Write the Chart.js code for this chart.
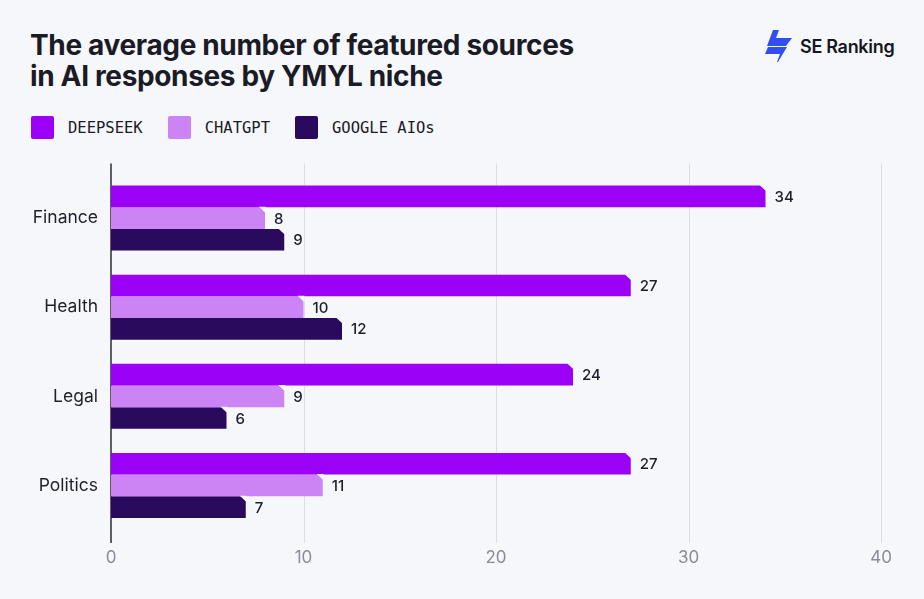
<!DOCTYPE html>
<html>
<head>
<meta charset="utf-8">
<script src="https://cdn.jsdelivr.net/npm/chart.js@4"></script>
<style>
  html, body { margin:0; padding:0; background:#f6f7fb; }
  body { width:924px; height:599px; position:relative; overflow:hidden; font-family:Inter, "Noto Sans", sans-serif; }
  #title { position:absolute; left:30px; top:30px; font-size:28px; font-weight:700; line-height:31px; color:#1b1b26; letter-spacing:-0.35px; }
  #logo { position:absolute; left:764px; top:30px; display:flex; align-items:center; gap:6px; }
  #logo span { font-size:18px; font-weight:600; color:#16161f; letter-spacing:-0.3px; }
  #legend { position:absolute; left:31px; top:116px; display:flex; align-items:center; }
  .item { display:flex; align-items:center; margin-right:25px; font-family:"DejaVu Sans Mono", monospace; font-size:15.5px; color:#1b1b26; }
  .sw { width:23px; height:23px; border-radius:2px; margin-right:14px; }
  #wrap { position:absolute; left:0; top:150px; width:924px; height:440px; }
</style>
</head>
<body>
<div id="title">The average number of featured sources<br>in AI responses by YMYL niche</div>
<div id="logo">
  <svg width="30" height="32" viewBox="0 0 30 32">
    <polygon points="9,0 15,0 12,8 28,8 22,16 3,16" fill="#2f4ff0"/>
    <polygon points="4,17 23,17 14,32 13,32 16,24 1,24" fill="#2f4ff0"/>
  </svg>
  <span>SE Ranking</span>
</div>
<div id="legend"></div>
<div id="wrap"><canvas id="chart"></canvas></div>
<script>
const categories = ['Finance', 'Health', 'Legal', 'Politics'];
const seriesNames = ['DEEPSEEK', 'CHATGPT', 'GOOGLE AIOs'];
const deepseek = [34, 27, 24, 27];
const chatgpt = [8, 10, 9, 11];
const googleAio = [9, 12, 6, 7];
const xTicks = [0, 10, 20, 30, 40];
const colors = ['#9b00f7', '#cc84f5', '#290a5c'];
const BG = '#f6f7fb';

// legend
const legend = document.getElementById('legend');
seriesNames.forEach((n, i) => {
  legend.innerHTML += `<div class="item"><div class="sw" style="background:${colors[i]}"></div>${n}</div>`;
});

// gridlines stretched beyond the plot area + y axis line
const gridPlugin = {
  id: 'grid',
  beforeDatasetsDraw(chart) {
    const { ctx, chartArea: a, scales: { x } } = chart;
    ctx.save();
    xTicks.forEach(v => {
      if (v === 0) return;
      const px = Math.round(x.getPixelForValue(v)) + 0.5;
      ctx.strokeStyle = '#dcdde6'; ctx.lineWidth = 1;
      ctx.beginPath(); ctx.moveTo(px, a.top - 10); ctx.lineTo(px, a.bottom + 13); ctx.stroke();
    });
    const p0 = x.getPixelForValue(0);
    ctx.strokeStyle = '#2b2b33'; ctx.lineWidth = 1.5;
    ctx.beginPath(); ctx.moveTo(p0, a.top - 10); ctx.lineTo(p0, a.bottom + 13); ctx.stroke();
    ctx.restore();
  }
};

// chamfered bar ends + value labels
const endPlugin = {
  id: 'ends',
  afterDatasetsDraw(chart) {
    const { ctx } = chart;
    ctx.save();
    chart.data.datasets.forEach((ds, di) => {
      chart.getDatasetMeta(di).data.forEach((bar, i) => {
        const top = bar.y - bar.height / 2;
        const c = 6;
        ctx.fillStyle = BG;
        ctx.beginPath();
        ctx.moveTo(bar.x - c, top - 0.5);
        ctx.lineTo(bar.x + 1, top - 0.5);
        ctx.lineTo(bar.x + 1, top + c);
        ctx.closePath();
        ctx.fill();
        ctx.fillStyle = '#1d1d2b';
        ctx.font = '500 15px Inter, sans-serif';
        ctx.textAlign = 'left';
        ctx.textBaseline = 'middle';
        ctx.fillText(ds.data[i], bar.x + 9, bar.y + 1);
      });
    });
    ctx.restore();
  }
};

new Chart(document.getElementById('chart'), {
  type: 'bar',
  data: {
    labels: categories,
    datasets: [deepseek, chatgpt, googleAio].map((d, i) => ({
      label: seriesNames[i], data: d, backgroundColor: colors[i],
      borderWidth: 0, barPercentage: 1, categoryPercentage: 0.73
    }))
  },
  options: {
    indexAxis: 'y',
    responsive: true, maintainAspectRatio: false, animation: false,
    layout: { padding: { top: 20, right: 43, left: 0, bottom: 0 } },
    plugins: { legend: { display: false }, tooltip: { enabled: false } },
    scales: {
      x: {
        min: 0, max: 40,
        afterBuildTicks: s => { s.ticks = xTicks.map(v => ({ value: v })); },
        afterFit: s => { s.height = 60; },
        grid: { display: false, drawTicks: false }, border: { display: false },
        ticks: { color: '#8a8b98', font: { size: 17, family: 'Inter' }, padding: 18 }
      },
      y: {
        afterFit: s => { s.width = 111; },
        grid: { display: false, drawTicks: false }, border: { display: false },
        ticks: { color: '#1f1f2a', font: { size: 17.5, family: 'Inter' }, padding: 13 }
      }
    }
  },
  plugins: [gridPlugin, endPlugin]
});
</script>
</body>
</html>
